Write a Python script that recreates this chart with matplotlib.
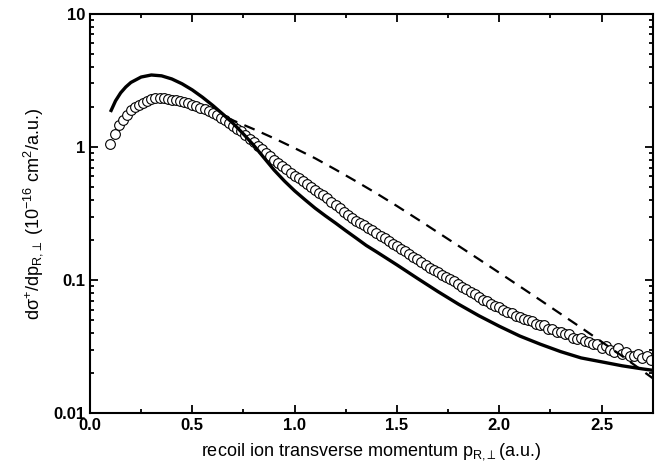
import matplotlib
matplotlib.use('Agg')
import matplotlib.pyplot as plt
from matplotlib.ticker import FixedLocator, LogLocator, NullFormatter, MultipleLocator

plt.rcParams['font.family'] = ['Liberation Sans', 'DejaVu Sans']
plt.rcParams['mathtext.fontset'] = 'custom'
plt.rcParams['mathtext.rm'] = 'Liberation Sans'
plt.rcParams['mathtext.it'] = 'Liberation Sans'
plt.rcParams['mathtext.default'] = 'regular'

# measured data (open circles)
data_x = [0.10, 0.12, 0.14, 0.16, 0.18, 0.20, 0.22, 0.24, 0.26, 0.28,
          0.30, 0.32, 0.34, 0.36, 0.38, 0.40, 0.42, 0.44, 0.46, 0.48,
          0.50, 0.52, 0.54, 0.56, 0.58, 0.60, 0.62, 0.64, 0.66, 0.68,
          0.70, 0.72, 0.74, 0.76, 0.78, 0.80, 0.82, 0.84, 0.86, 0.88,
          0.90, 0.92, 0.94, 0.96, 0.98, 1.00, 1.02, 1.04, 1.06, 1.08,
          1.10, 1.12, 1.14, 1.16, 1.18, 1.20, 1.22, 1.24, 1.26, 1.28,
          1.30, 1.32, 1.34, 1.36, 1.38, 1.40, 1.42, 1.44, 1.46, 1.48,
          1.50, 1.52, 1.54, 1.56, 1.58, 1.60, 1.62, 1.64, 1.66, 1.68,
          1.70, 1.72, 1.74, 1.76, 1.78, 1.80, 1.82, 1.84, 1.86, 1.88,
          1.90, 1.92, 1.94, 1.96, 1.98, 2.00, 2.02, 2.04, 2.06, 2.08,
          2.10, 2.12, 2.14, 2.16, 2.18, 2.20, 2.22, 2.24, 2.26, 2.28,
          2.30, 2.32, 2.34, 2.36, 2.38, 2.40, 2.42, 2.44, 2.46, 2.48,
          2.50, 2.52, 2.54, 2.56, 2.58, 2.60, 2.62, 2.64, 2.66, 2.68,
          2.70, 2.72, 2.74]
data_y = [1.05, 1.25, 1.45, 1.60, 1.75, 1.88, 1.98, 2.07, 2.15, 2.22,
          2.28, 2.32, 2.34, 2.32, 2.30, 2.27, 2.24, 2.20, 2.17, 2.12,
          2.07, 2.02, 1.97, 1.92, 1.86, 1.80, 1.74, 1.66, 1.58, 1.50,
          1.43, 1.37, 1.31, 1.22, 1.15, 1.08, 1.02, 0.96, 0.90, 0.85,
          0.80, 0.76, 0.72, 0.68, 0.64, 0.61, 0.58, 0.555, 0.53, 0.50,
          0.475, 0.453, 0.432, 0.41, 0.389, 0.367, 0.347, 0.327, 0.309, 0.292,
          0.279, 0.266, 0.257, 0.248, 0.237, 0.226, 0.216, 0.207, 0.197, 0.188,
          0.180, 0.172, 0.164, 0.157, 0.150, 0.143, 0.136, 0.130, 0.124, 0.119,
          0.114, 0.110, 0.105, 0.101, 0.098, 0.093, 0.089, 0.086, 0.081, 0.078,
          0.075, 0.071, 0.069, 0.066, 0.064, 0.063, 0.060, 0.058, 0.057, 0.054,
          0.053, 0.051, 0.050, 0.049, 0.047, 0.046, 0.046, 0.043, 0.043, 0.041,
          0.041, 0.039, 0.039, 0.037, 0.036, 0.037, 0.035, 0.034, 0.033, 0.033,
          0.031, 0.032, 0.030, 0.029, 0.031, 0.028, 0.029, 0.027, 0.027, 0.028,
          0.026, 0.027, 0.025]

# theory, solid line
solid_x = [0.10, 0.125, 0.15, 0.175, 0.20, 0.25, 0.30, 0.35, 0.40, 0.45,
           0.50, 0.55, 0.60, 0.65, 0.70, 0.75, 0.80, 0.85, 0.90, 0.95,
           1.00, 1.05, 1.10, 1.15, 1.20, 1.25, 1.30, 1.35, 1.40, 1.50,
           1.60, 1.70, 1.80, 1.90, 2.00, 2.10, 2.20, 2.30, 2.40, 2.50,
           2.60, 2.70, 2.75]
solid_y = [1.83, 2.22, 2.55, 2.82, 3.05, 3.35, 3.47, 3.42, 3.24, 2.98,
           2.68, 2.36, 2.05, 1.76, 1.50, 1.25, 1.03, 0.83, 0.67, 0.555,
           0.468, 0.402, 0.347, 0.304, 0.268, 0.235, 0.207, 0.182, 0.163, 0.130,
           0.103, 0.082, 0.066, 0.054, 0.045, 0.038, 0.033, 0.029, 0.026, 0.0243,
           0.0227, 0.0215, 0.021]

# theory, dashed line
dash_x = [0.67, 0.70, 0.80, 0.90, 1.00, 1.10, 1.20, 1.30, 1.40, 1.50,
          1.60, 1.70, 1.80, 1.90, 2.00, 2.10, 2.20, 2.30, 2.40, 2.50,
          2.60, 2.70, 2.75]
dash_y = [1.66, 1.58, 1.36, 1.16, 0.98, 0.822, 0.676, 0.552, 0.448, 0.36,
          0.287, 0.228, 0.181, 0.1435, 0.1135, 0.0897, 0.0708, 0.0557, 0.0439, 0.0344,
          0.0269, 0.0208, 0.0183]

fig = plt.figure(figsize=(6.64, 4.76), dpi=100)
ax = fig.add_axes([0.1355, 0.132, 0.8475, 0.839])

ax.plot(data_x, data_y, linestyle='none', marker='o', markersize=7,
        markerfacecolor='white', markeredgecolor='black', markeredgewidth=0.8)
ax.plot(solid_x, solid_y, color='black', linewidth=2.4, solid_capstyle='butt')
ax.plot(dash_x, dash_y, color='black', linewidth=1.6, dashes=(5, 3.5))

ax.set_yscale('log')
ax.set_xlim(0, 2.75)
ax.set_ylim(0.01, 10)

ax.xaxis.set_major_locator(MultipleLocator(0.5))
ax.xaxis.set_minor_locator(MultipleLocator(0.25))
ax.xaxis.set_major_formatter(matplotlib.ticker.FormatStrFormatter('%.1f'))
ax.yaxis.set_major_locator(FixedLocator([0.01, 0.1, 1, 10]))
ax.yaxis.set_minor_locator(LogLocator(base=10, subs=range(2, 10)))
ax.yaxis.set_minor_formatter(NullFormatter())
ax.set_yticklabels(['0.01', '0.1', '1', '10'])

ax.tick_params(which='both', direction='in', top=True, right=True, width=1.3)
ax.tick_params(which='major', length=6, labelsize=12)
ax.tick_params(which='minor', length=3)
for lab in ax.get_xticklabels() + ax.get_yticklabels():
    lab.set_fontweight('bold')
for sp in ax.spines.values():
    sp.set_linewidth(1.5)

ax.set_xlabel(r'recoil ion transverse momentum p$_{R{,}\perp}$(a.u.)', fontsize=13, labelpad=6)
ax.set_ylabel(r'd$\sigma^{+}$/dp$_{R{,}\perp}$ (10$^{-16}$ cm$^{2}$/a.u.)', fontsize=13, labelpad=6)

fig.savefig('out.png', dpi=100)
